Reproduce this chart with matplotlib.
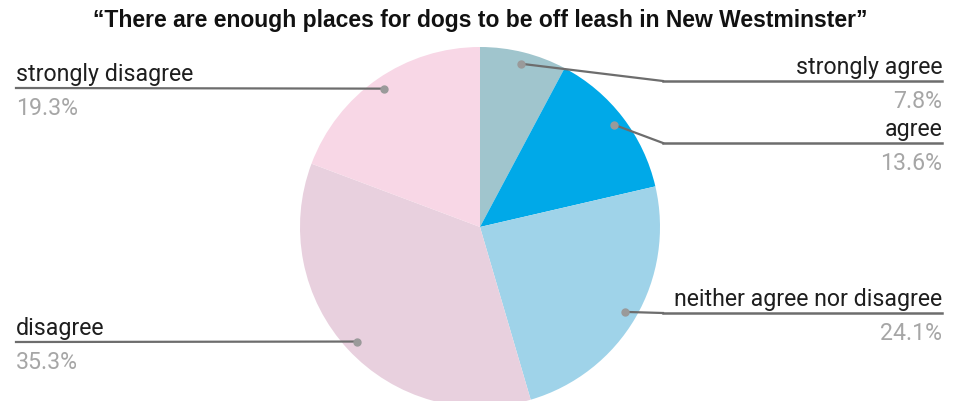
import numpy as np
import matplotlib.pyplot as plt

# survey responses, clockwise from 12 o'clock
categories = ["strongly agree", "agree", "neither agree nor disagree",
              "disagree", "strongly disagree"]
shares = [7.8, 13.6, 24.1, 35.3, 19.3]
colors = ["#a0c5cd", "#00a9e8", "#9fd3e9", "#e8d0de", "#f8d7e6"]

# label placement: side and height of the underline (pixels from top)
sides = ["right", "right", "right", "left", "left"]
line_y = [82, 144, 314, 343, 89]

W, H = 959, 402
fig = plt.figure(figsize=(W / 100, H / 100), dpi=100)
ax = fig.add_axes([0, 0, 1, 1])

cx, cy, R = 480, H - 228, 180
wedges, _ = ax.pie(shares, colors=colors, startangle=90, counterclock=False,
                   center=(cx, cy), radius=R, frame=True,
                   wedgeprops=dict(linewidth=0))
ax.set_xlim(0, W)
ax.set_ylim(0, H)
ax.set_aspect("equal")
ax.axis("off")

for w, name, val, side, ly in zip(wedges, categories, shares, sides, line_y):
    ly = H - ly
    mid = np.deg2rad((w.theta1 + w.theta2) / 2)
    dx = cx + 0.935 * R * np.cos(mid)
    dy = cy + 0.935 * R * np.sin(mid)
    if side == "right":
        ex = 663
        ax.plot([dx, ex], [dy, ly], color="#6d6d6d", lw=1.6, zorder=3)
        ax.plot([ex, 942], [ly, ly], color="#6d6d6d", lw=1.8, zorder=3)
        tx, ha = 942, "right"
    else:
        ax.plot([16, dx], [ly, dy], color="#6d6d6d", lw=1.6, zorder=3)
        tx, ha = 16, "left"
    ax.plot([dx], [dy], "o", color="#9a9a9a", ms=5, zorder=4)
    ax.text(tx, ly + 8, name, ha=ha, va="baseline", fontsize=16.7,
            family="Roboto", color="#1e1e1e")
    ax.text(tx, ly - 26, f"{val}%", ha=ha, va="baseline", fontsize=16.7,
            family="Roboto", color="#a6a6a6")

ax.text(480, H - 21, "\u201cThere are enough places for dogs to be off leash in New Westminster\u201d",
        ha="center", va="center", fontsize=16.5, fontweight="bold",
        family="Liberation Sans", color="#111111")

fig.savefig("out.png", dpi=100)
